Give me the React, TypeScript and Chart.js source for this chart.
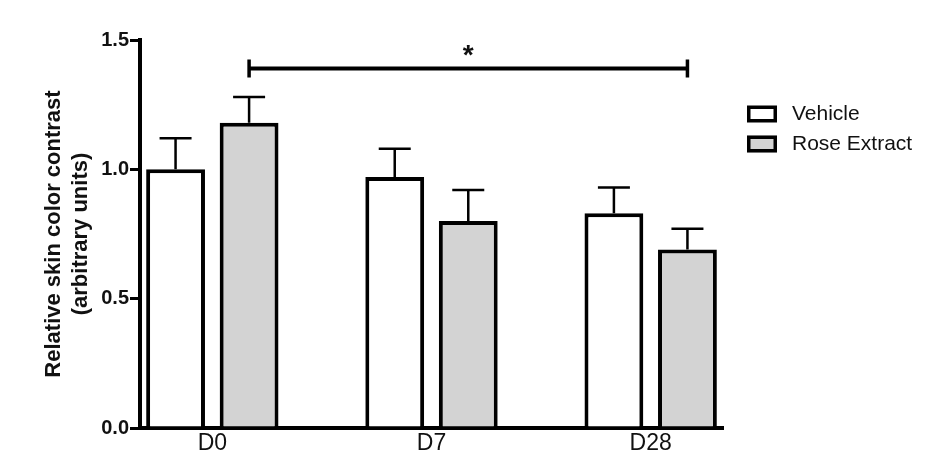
import React, { useEffect, useRef } from "react";
import { Chart, registerables } from "chart.js";

Chart.register(...registerables);

// ---- data ----
const CATEGORIES = ["D0", "D7", "D28"];
const SERIES_NAMES = ["Vehicle", "Rose Extract"];
const VEHICLE = [1.0, 0.97, 0.83];
const VEHICLE_ERR = [0.12, 0.11, 0.1];
const ROSE = [1.18, 0.8, 0.69];
const ROSE_ERR = [0.1, 0.12, 0.08];
const Y_TICKS = [0, 0.5, 1.0, 1.5];
const Y_TITLE = ["Relative skin color contrast", "(arbitrary units)"];
// significance bracket: from Rose Extract at D0 to Rose Extract at D28
const SIG_DATASET = 1;
const SIG_FROM = 0;
const SIG_TO = 2;
const SIG_LEVEL = 1.39;
const SIG_LABEL = "*";

const FONT = "'Liberation Sans', Arial, sans-serif";
const FILLS = ["#ffffff", "#d3d3d3"];

const errorBarPlugin = {
  id: "errorBars",
  afterDatasetsDraw(chart: any) {
    const ctx = chart.ctx;
    const y = chart.scales.y;
    const errs = [VEHICLE_ERR, ROSE_ERR];
    const vals = [VEHICLE, ROSE];
    ctx.save();
    ctx.strokeStyle = "#000";
    ctx.lineWidth = 2.5;
    chart.data.datasets.forEach((_: any, di: number) => {
      const meta = chart.getDatasetMeta(di);
      meta.data.forEach((bar: any, i: number) => {
        const top = y.getPixelForValue(vals[di][i] + errs[di][i]);
        ctx.beginPath();
        ctx.moveTo(bar.x, bar.y);
        ctx.lineTo(bar.x, top);
        ctx.moveTo(bar.x - 16, top);
        ctx.lineTo(bar.x + 16, top);
        ctx.stroke();
      });
    });
    // significance bracket
    const meta = chart.getDatasetMeta(SIG_DATASET);
    const x1 = meta.data[SIG_FROM].x;
    const x2 = meta.data[SIG_TO].x;
    const by = y.getPixelForValue(SIG_LEVEL);
    ctx.lineWidth = 4;
    ctx.beginPath();
    ctx.moveTo(x1, by);
    ctx.lineTo(x2, by);
    ctx.stroke();
    ctx.lineWidth = 3.5;
    ctx.beginPath();
    ctx.moveTo(x1, by - 9);
    ctx.lineTo(x1, by + 9);
    ctx.moveTo(x2, by - 9);
    ctx.lineTo(x2, by + 9);
    ctx.stroke();
    ctx.fillStyle = "#111";
    ctx.font = `bold 28px ${FONT}`;
    ctx.textAlign = "center";
    ctx.textBaseline = "alphabetic";
    ctx.fillText(SIG_LABEL, (x1 + x2) / 2, by - 4);
    ctx.restore();
  },
};

const legendPlugin = {
  id: "sideLegend",
  afterDraw(chart: any) {
    const ctx = chart.ctx;
    const area = chart.chartArea;
    ctx.save();
    chart.data.datasets.forEach((ds: any, i: number) => {
      const bx = area.right + 24;
      const by = area.top + 65.5 + i * 30;
      const bw = 30;
      const bh = 17;
      ctx.fillStyle = ds.backgroundColor;
      ctx.fillRect(bx, by, bw, bh);
      ctx.strokeStyle = "#000";
      ctx.lineWidth = 3.5;
      ctx.strokeRect(bx + 1.75, by + 1.75, bw - 3.5, bh - 3.5);
      ctx.fillStyle = "#111";
      ctx.font = `21px ${FONT}`;
      ctx.textAlign = "left";
      ctx.textBaseline = "middle";
      ctx.fillText(ds.label, bx + 45, by + bh / 2);
    });
    ctx.restore();
  },
};

export default function App() {
  const canvasRef = useRef<HTMLCanvasElement | null>(null);

  useEffect(() => {
    document.body.style.margin = "0";
    const canvas = canvasRef.current;
    if (!canvas) return;
    const chart = new Chart(canvas, {
      type: "bar",
      data: {
        datasets: [
          {
            label: SERIES_NAMES[0],
            data: VEHICLE.map((v, i) => ({ x: i, y: v })),
            backgroundColor: FILLS[0],
            borderColor: "#000",
            borderWidth: 4,
          },
          {
            label: SERIES_NAMES[1],
            data: ROSE.map((v, i) => ({ x: i, y: v })),
            backgroundColor: FILLS[1],
            borderColor: "#000",
            borderWidth: 4,
          },
        ],
      },
      options: {
        animation: false,
        responsive: false,
        maintainAspectRatio: false,
        devicePixelRatio: 1,
        categoryPercentage: 0.671,
        barPercentage: 0.8,
        layout: { padding: { left: 0, top: 40, right: 209, bottom: 0 } },
        plugins: {
          legend: { display: false },
          tooltip: { enabled: false },
        },
        scales: {
          x: {
            type: "linear",
            min: -0.33,
            max: 2.33,
            offset: false,
            afterBuildTicks: (s: any) => {
              s.ticks = CATEGORIES.map((_, i) => ({ value: i }));
            },
            ticks: {
              autoSkip: false,
              maxRotation: 0,
              padding: 2,
              color: "#111",
              font: { family: FONT, size: 23 },
              callback: (v: any) => CATEGORIES[v] ?? "",
            },
            grid: { display: false, drawTicks: false, offset: false },
            border: { display: true, width: 4, color: "#000" },
            afterFit: (s: any) => {
              s.height = 39;
            },
          },
          y: {
            min: 0,
            max: 1.5,
            afterBuildTicks: (s: any) => {
              s.ticks = Y_TICKS.map((v) => ({ value: v }));
            },
            ticks: {
              padding: 1,
              color: "#111",
              font: { family: FONT, size: 20, weight: "bold" },
              callback: (v: any) => Number(v).toFixed(1),
            },
            grid: {
              display: true,
              drawOnChartArea: false,
              drawTicks: true,
              tickLength: 10,
              lineWidth: 3,
              color: "#000",
            },
            border: { display: true, width: 4, color: "#000" },
            title: {
              display: true,
              text: Y_TITLE,
              color: "#111",
              font: { family: FONT, size: 22, weight: "bold", lineHeight: 1.2 },
              padding: { top: 41, bottom: 0 },
            },
            afterFit: (s: any) => {
              s.width = 140;
            },
          },
        },
      } as any,
      plugins: [errorBarPlugin, legendPlugin],
    });
    return () => chart.destroy();
  }, []);

  return (
    <div style={{ width: 932, height: 467, background: "#fff" }}>
      <canvas ref={canvasRef} width={932} height={467} />
    </div>
  );
}
